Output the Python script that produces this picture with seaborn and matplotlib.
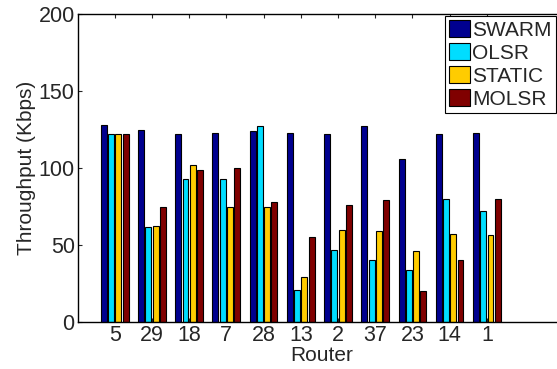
import numpy as np
import pandas as pd
import matplotlib
matplotlib.use("Agg")
import matplotlib.pyplot as plt
import seaborn as sns

# data
routers = ["5", "29", "18", "7", "28", "13", "2", "37", "23", "14", "1"]
protocols = ["SWARM", "OLSR", "STATIC", "MOLSR"]
swarm = [128, 125, 122, 123, 124, 123, 122, 127, 106, 122, 123]
olsr = [122, 62, 93, 93, 127, 21, 47, 40.5, 34, 80, 72]
static = [122, 62.5, 102, 75, 75, 29.5, 59.5, 59, 46, 57, 56.5]
molsr = [122, 75, 99, 100, 78, 55, 76, 79, 20, 40, 80]
colors = ["#00008F", "#00DDFF", "#FFCC00", "#800000"]

rows = []
for name, vals in zip(protocols, [swarm, olsr, static, molsr]):
    for r, v in zip(routers, vals):
        rows.append({"Router": r, "Protocol": name, "Throughput": v})
df = pd.DataFrame(rows)

sns.set_style("ticks")
plt.rcParams["font.family"] = ["Liberation Sans", "DejaVu Sans"]

fig = plt.figure(figsize=(5.57, 3.69), dpi=100)
ax = fig.add_axes([77.5 / 557, 47 / 369, (565 - 77.5) / 557, 308 / 369])

sns.barplot(data=df, x="Router", y="Throughput", hue="Protocol",
            order=routers, hue_order=protocols, palette=colors,
            saturation=1, width=0.78, gap=0.18, edgecolor="black",
            linewidth=0.8, errorbar=None, ax=ax)

ax.set_xlim(-1, 12.1)
ax.set_ylim(0, 200)
ax.set_yticks([0, 50, 100, 150, 200])
ax.set_xlabel("Router", fontsize=15, labelpad=0)
ax.set_ylabel("Throughput (Kbps)", fontsize=15, labelpad=2)
ax.tick_params(axis="both", direction="in", length=3, width=0.8,
               labelsize=15.5, top=True, right=True, pad=2)
for s in ax.spines.values():
    s.set_visible(True)
    s.set_linewidth(1.0)
    s.set_color("black")

# legend box starts near x=445 px, just under the top spine
handles, labels = ax.get_legend_handles_labels()
leg = ax.legend(handles, labels, loc="upper left",
                bbox_to_anchor=(445 / 557, 1 - 16 / 369),
                bbox_transform=fig.transFigure, borderaxespad=0,
                fontsize=15, frameon=True, fancybox=False,
                edgecolor="black", framealpha=1, handlelength=1.0,
                handleheight=0.9, handletextpad=0.1, labelspacing=0.15,
                borderpad=0.2)
leg.get_frame().set_linewidth(0.8)

fig.savefig("out.png", dpi=100)
